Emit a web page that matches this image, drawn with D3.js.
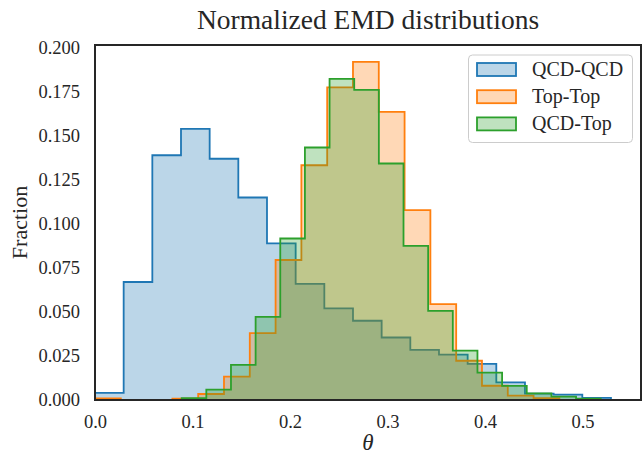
<!DOCTYPE html>
<html><head><meta charset="utf-8">
<script src="https://cdn.jsdelivr.net/npm/d3@7"></script>
<style>body{margin:0;background:#fff}svg{display:block}</style>
</head><body><svg id="c" width="644" height="454"></svg>
<script>
// ---- data ----
const seriesNames = ["QCD-QCD", "Top-Top", "QCD-Top"];
const seriesColors = ["#1f77b4", "#ff7f0e", "#2ca02c"];
// first bin edge and bin width per series
const binStart = [0.0, 0.0, 0.0889];
const binWidth = [0.0294, 0.02646, 0.02528];
const qcdqcd = [0.004, 0.067, 0.139, 0.154, 0.137, 0.115, 0.089, 0.066, 0.052, 0.045, 0.0355, 0.0285, 0.0258, 0.0205, 0.010, 0.0036, 0.003, 0.0012];
const toptop = [0.0009, 0, 0, 0.0008, 0.0034, 0.0133, 0.038, 0.0795, 0.1333, 0.1775, 0.192, 0.1636, 0.1078, 0.0544, 0.0223, 0.0081, 0.0025, 0.001];
const qcdtop = [0.001, 0.0059, 0.0199, 0.0472, 0.0917, 0.1434, 0.1824, 0.1761, 0.1343, 0.0875, 0.0506, 0.028, 0.0155, 0.008, 0.0038, 0.0019, 0.0008];
const seriesValues = [qcdqcd, toptop, qcdtop];
const xTicks = [0.0, 0.1, 0.2, 0.3, 0.4, 0.5];
const yTicks = [0, 0.025, 0.05, 0.075, 0.1, 0.125, 0.15, 0.175, 0.2];
const title = "Normalized EMD distributions";
const xLabel = "θ";
const yLabel = "Fraction";

// ---- layout ----
const svg = d3.select("#c");
const L = 95, R = 641, T = 45, B = 400;
const x = d3.scaleLinear().domain([0, 0.56]).range([L, R]);
const yMax = d3.max(seriesValues.flat()) * 1.05;
const y = d3.scaleLinear().domain([0, yMax]).range([B, T]);
const font = "'Liberation Serif', 'Times New Roman', serif";
const ink = "#262626";

svg.append("defs").append("clipPath").attr("id", "clip")
  .append("rect").attr("x", L).attr("y", T).attr("width", R - L).attr("height", B - T);

const g = svg.append("g").attr("clip-path", "url(#clip)");
seriesValues.forEach((vals, s) => {
  const edges = d3.range(vals.length + 1).map(i => binStart[s] + i * binWidth[s]);
  const p = d3.path();
  p.moveTo(x(edges[0]), y(0));
  vals.forEach((v, i) => {
    p.lineTo(x(edges[i]), y(v));
    p.lineTo(x(edges[i + 1]), y(v));
  });
  p.lineTo(x(edges[edges.length - 1]), y(0));
  p.closePath();
  g.append("path").attr("d", p.toString())
    .attr("fill", seriesColors[s]).attr("fill-opacity", 0.3)
    .attr("stroke", seriesColors[s]).attr("stroke-width", 1.8)
    .attr("stroke-linejoin", "miter");
});

// axes
const xAxis = svg.append("g").attr("transform", `translate(0,${B})`)
  .call(d3.axisBottom(x).tickValues(xTicks).tickFormat(d3.format(".1f")).tickSize(0).tickPadding(14));
const yAxis = svg.append("g").attr("transform", `translate(${L},0)`)
  .call(d3.axisLeft(y).tickValues(yTicks).tickFormat(d3.format(".3f")).tickSize(0).tickPadding(15));
[xAxis, yAxis].forEach(a => {
  a.select(".domain").remove();
  a.selectAll("text").attr("font-family", font).attr("font-size", 18.5).attr("fill", ink);
});
xAxis.selectAll("text").attr("dy", "0.75em");

// frame
svg.append("rect").attr("x", L).attr("y", T).attr("width", R - L).attr("height", B - T)
  .attr("fill", "none").attr("stroke", ink).attr("stroke-width", 2);

// title & labels
svg.append("text").attr("x", (L + R) / 2).attr("y", 29).attr("text-anchor", "middle")
  .attr("font-family", font).attr("font-size", 27.5).attr("fill", ink).text(title);
svg.append("text").attr("x", (L + R) / 2).attr("y", 450).attr("text-anchor", "middle")
  .attr("font-family", font).attr("font-style", "italic").attr("font-size", 23).attr("fill", ink).text(xLabel);
svg.append("text").attr("transform", `translate(27,${(T + B) / 2}) rotate(-90)`).attr("text-anchor", "middle")
  .attr("font-family", font).attr("font-size", 22).attr("fill", ink).text(yLabel);

// legend
const lg = svg.append("g");
lg.append("rect").attr("x", 468.5).attr("y", 55).attr("width", 164).attr("height", 87.5).attr("rx", 4)
  .attr("fill", "#fff").attr("fill-opacity", 0.8).attr("stroke", "#cccccc").attr("stroke-width", 1);
seriesNames.forEach((n, i) => {
  const cy = 69.5 + i * 27.2;
  lg.append("rect").attr("x", 477).attr("y", cy - 6.5).attr("width", 39).attr("height", 13)
    .attr("fill", seriesColors[i]).attr("fill-opacity", 0.3)
    .attr("stroke", seriesColors[i]).attr("stroke-width", 1.8);
  lg.append("text").attr("x", 532).attr("y", cy + 6.5).attr("font-family", font)
    .attr("font-size", 20).attr("fill", ink).text(n);
});
</script></body></html>
